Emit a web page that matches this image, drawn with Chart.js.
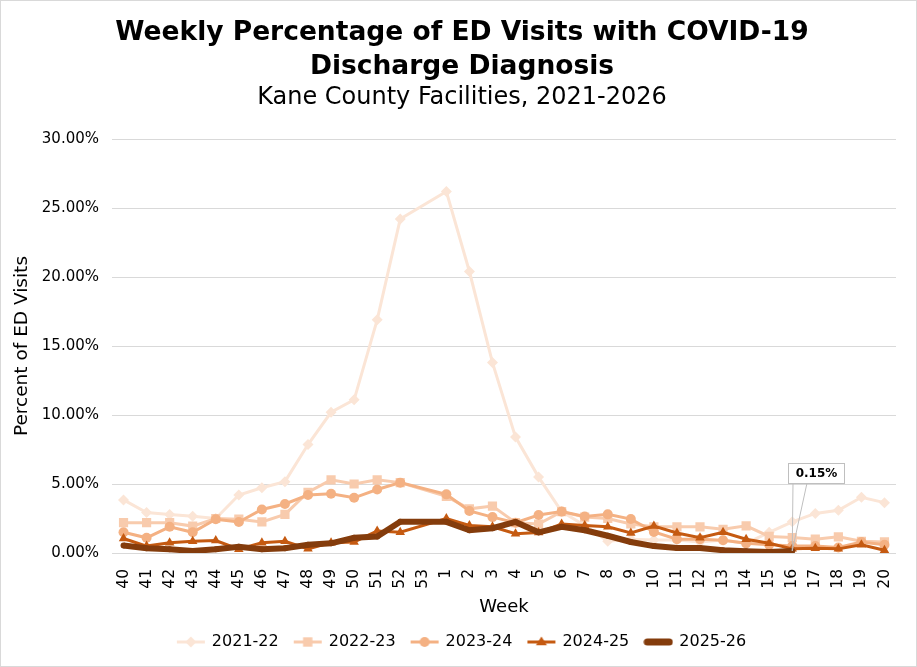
<!DOCTYPE html>
<html>
<head>
<meta charset="utf-8">
<script src="https://cdn.jsdelivr.net/npm/chart.js@4.4.1/dist/chart.umd.min.js"></script>
<style>
  html, body { margin: 0; padding: 0; background: #fff; }
  #wrap { width: 917px; height: 667px; box-sizing: border-box; border: 1px solid #d9d9d9; }
  canvas { display: block; }
</style>
</head>
<body>
<div id="wrap"><canvas id="chart" width="915" height="665"></canvas></div>
<script>
// MMWR weeks, week 40 through week 20 of the next year
const weeks = ['40', '41', '42', '43', '44', '45', '46', '47', '48', '49', '50', '51', '52', '53',
    '1', '2', '3', '4', '5', '6', '7', '8', '9', '10', '11', '12', '13', '14', '15', '16', '17', '18', '19', '20'];

const seasons = ['2021-22', '2022-23', '2023-24', '2024-25', '2025-26'];

// percent of ED visits, null = no data for that week
const s2122 = [3.85, 2.93, 2.79, 2.67, 2.5, 4.2, 4.73, 5.17, 7.86, 10.2, 11.1, 16.9, 24.2, null,
    26.2, 20.4, 13.8, 8.4, 5.5, 3.0, 2.0, 0.85, 1.0, 0.95, 0.95, 0.8, 0.95, 0.7, 1.5, 2.26, 2.87, 3.1, 4.04, 3.65];
const s2223 = [2.2, 2.2, 2.2, 1.95, 2.5, 2.45, 2.25, 2.8, 4.4, 5.3, 5.0, 5.3, 5.1, null,
    4.1, 3.2, 3.4, 2.2, 2.1, 3.0, 2.6, 2.5, 2.1, 1.9, 1.9, 1.9, 1.72, 1.97, 1.2, 1.12, 1.0, 1.17, 0.85, 0.8];
const s2324 = [1.5, 1.1, 1.9, 1.5, 2.45, 2.25, 3.15, 3.55, 4.2, 4.3, 4.0, 4.6, 5.1, null,
    4.25, 3.05, 2.6, 2.2, 2.75, 3.0, 2.65, 2.8, 2.46, 1.53, 1.0, 1.0, 0.93, 0.7, 0.6, 0.5, 0.5, 0.4, 0.8, 0.6];
const s2425 = [1.05, 0.5, 0.75, 0.85, 0.9, 0.27, 0.75, 0.85, 0.3, 0.75, 0.8, 1.6, 1.5, null,
    2.5, 2.0, 1.9, 1.4, 1.48, 2.1, 2.0, 1.9, 1.45, 1.95, 1.45, 1.1, 1.5, 1.0, 0.7, 0.3, 0.35, 0.3, 0.6, 0.2];
const s2526 = [0.55, 0.35, 0.27, 0.15, 0.27, 0.45, 0.27, 0.35, 0.6, 0.7, 1.1, 1.2, 2.26, null,
    2.26, 1.65, 1.8, 2.25, 1.5, 1.9, 1.65, 1.25, 0.8, 0.5, 0.36, 0.36, 0.2, 0.12, 0.07, 0.15, null, null, null, null];

const yTicks = [0, 5, 10, 15, 20, 25, 30];

const colors = ['#FBE5D6', '#F8CBAD', '#F4B183', '#C55A11', '#843C0C'];
const markers = ['rectRot', 'rect', 'circle', 'triangle', 'circle'];
const markerSize = [5.5, 6.5, 5, 5.5, 3];
const lineWidths = [3, 3, 3, 3, 6];
const FONT = '"DejaVu Sans", Verdana, sans-serif';

// small line + marker picture for the legend, like Excel does
function legendIcon(i) {
    const c = document.createElement('canvas');
    c.width = 30; c.height = 16;
    const ctx = c.getContext('2d');
    ctx.strokeStyle = colors[i];
    ctx.fillStyle = colors[i];
    ctx.lineWidth = lineWidths[i] === 6 ? 7 : 3;
    ctx.lineCap = lineWidths[i] === 6 ? 'round' : 'butt';
    ctx.beginPath();
    ctx.moveTo(lineWidths[i] === 6 ? 4 : 1, 8);
    ctx.lineTo(lineWidths[i] === 6 ? 26 : 29, 8);
    ctx.stroke();
    const r = markerSize[i];
    ctx.beginPath();
    if (markers[i] === 'rectRot') {
        ctx.moveTo(15, 8 - r); ctx.lineTo(15 + r, 8); ctx.lineTo(15, 8 + r); ctx.lineTo(15 - r, 8);
    } else if (markers[i] === 'rect') {
        const h = r * 0.72;
        ctx.rect(15 - h, 8 - h, 2 * h, 2 * h);
    } else if (markers[i] === 'triangle') {
        ctx.moveTo(15, 8 - r); ctx.lineTo(15 + r, 8 + r * 0.6); ctx.lineTo(15 - r, 8 + r * 0.6);
    } else {
        ctx.arc(15, 8, r, 0, Math.PI * 2);
    }
    ctx.closePath();
    ctx.fill();
    return c;
}

// label box pointing at the latest value of the current season
const calloutPlugin = {
    id: 'callout',
    afterDatasetsDraw(chart) {
        const idx = 4;
        const vals = chart.data.datasets[idx].data;
        let last = vals.length - 1;
        while (last > 0 && vals[last] == null) last--;
        const pt = chart.getDatasetMeta(idx).data[last];
        const text = vals[last].toFixed(2) + '%';
        const ctx = chart.ctx;
        ctx.save();
        ctx.font = 'bold 12px ' + FONT;
        const w = Math.round(ctx.measureText(text).width + 14);
        const h = 20;
        const bx = Math.round(pt.x) - 4;
        const by = Math.round(pt.y) - 88;
        ctx.strokeStyle = '#bfbfbf';
        ctx.lineWidth = 1;
        ctx.beginPath();
        ctx.moveTo(bx + 5, by + h);
        ctx.lineTo(pt.x, pt.y);
        ctx.lineTo(bx + 19, by + h);
        ctx.stroke();
        ctx.fillStyle = '#fff';
        ctx.fillRect(bx, by, w, h);
        ctx.strokeRect(bx + 0.5, by + 0.5, w, h);
        ctx.fillStyle = '#000';
        ctx.textAlign = 'center';
        ctx.textBaseline = 'middle';
        ctx.fillText(text, bx + w / 2 + 0.5, by + h / 2 + 1);
        ctx.restore();
    }
};

const series = [s2122, s2223, s2324, s2425, s2526];

new Chart(document.getElementById('chart'), {
    type: 'line',
    data: {
        labels: weeks,
        datasets: series.map((d, i) => ({
            label: seasons[i],
            data: d,
            borderColor: colors[i],
            backgroundColor: colors[i],
            borderWidth: lineWidths[i],
            pointStyle: markers[i],
            pointRadius: markerSize[i],
            pointHoverRadius: markerSize[i],
            pointBorderWidth: 0,
            tension: 0,
            spanGaps: true,
            order: 5 - i,
        }))
    },
    options: {
        responsive: false,
        animation: false,
        layout: { padding: { left: 27, right: 20, top: 8, bottom: 6 } },
        plugins: {
            title: {
                display: true,
                text: ['Weekly Percentage of ED Visits with COVID-19', 'Discharge Diagnosis'],
                color: '#000',
                font: { family: FONT, size: 26.5, weight: 'bold', lineHeight: 1.25 },
                padding: { top: 8, bottom: 0 },
            },
            subtitle: {
                display: true,
                text: 'Kane County Facilities, 2021-2026',
                color: '#000',
                font: { family: FONT, size: 24, lineHeight: 1.2 },
                padding: { top: 0, bottom: 27 },
            },
            legend: {
                position: 'bottom',
                labels: {
                    color: '#000',
                    font: { family: FONT, size: 16 },
                    usePointStyle: true,
                    pointStyleWidth: 26,
                    padding: 16,
                    sort: (a, b) => a.datasetIndex - b.datasetIndex,
                    generateLabels(chart) {
                        return chart.data.datasets.map((ds, i) => ({
                            text: ds.label,
                            datasetIndex: i,
                            pointStyle: legendIcon(i),
                            fillStyle: colors[i],
                            strokeStyle: colors[i],
                            lineWidth: 0,
                            fontColor: '#000',
                            hidden: false,
                        }));
                    }
                }
            },
            tooltip: { enabled: false },
        },
        scales: {
            x: {
                offset: true,
                grid: { display: false },
                border: { display: false },
                afterFit(scale) { scale.height = 65; },
                ticks: {
                    color: '#000',
                    font: { family: FONT, size: 15.5 },
                    autoSkip: false,
                    minRotation: 90,
                    maxRotation: 90,
                    padding: 8,
                },
                title: {
                    display: true,
                    text: 'Week',
                    color: '#000',
                    font: { family: FONT, size: 18 },
                    padding: { top: 8, bottom: 0 },
                },
            },
            y: {
                min: 0,
                max: 30,
                afterBuildTicks(scale) {
                    scale.ticks = yTicks.map(v => ({ value: v }));
                },
                afterFit(scale) { scale.width = 84; },
                grid: { color: '#d9d9d9', lineWidth: 1, drawTicks: false },
                border: { display: false },
                ticks: {
                    color: '#000',
                    font: { family: FONT, size: 15 },
                    padding: 13,
                    callback: v => v.toFixed(2) + '%',
                },
                title: {
                    display: true,
                    text: 'Percent of ED Visits',
                    color: '#000',
                    font: { family: FONT, size: 18.5 },
                    padding: { top: -17, bottom: 0 },
                },
            },
        },
    },
    plugins: [calloutPlugin],
});
</script>
</body>
</html>
